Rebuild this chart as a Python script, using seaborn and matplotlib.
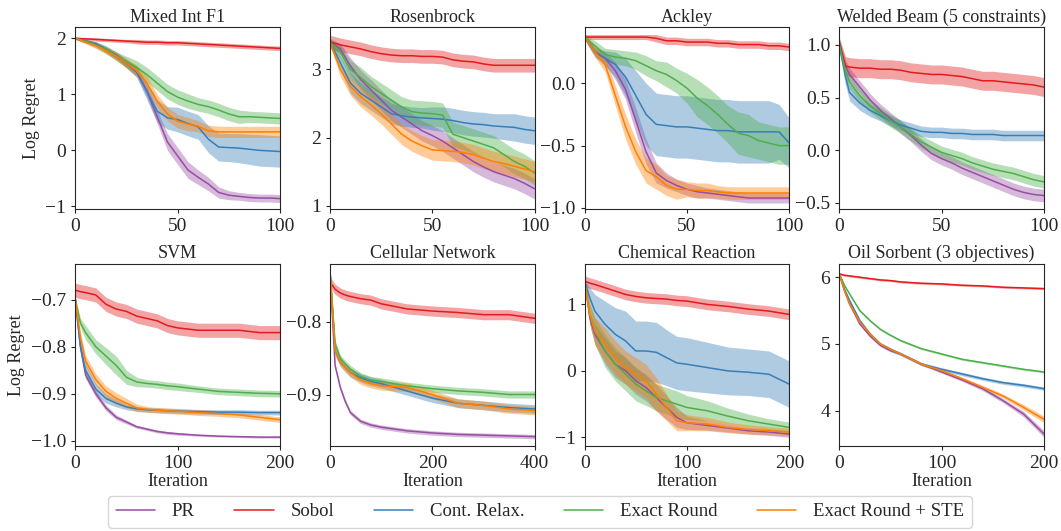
import seaborn as sns
import matplotlib.pyplot as plt
import numpy as np

sns.set_style("ticks")
plt.rcParams['font.family'] = ['Liberation Serif', 'DejaVu Serif']
plt.rcParams['mathtext.fontset'] = 'stix'

methods = ["PR", "Sobol", "Cont. Relax.", "Exact Round", "Exact Round + STE"]
colors = ["#984ea3", "#e41a1c", "#377eb8", "#4daf4a", "#ff7f00"]

# ---- Mixed Int F1 ----
it_f1 = [0, 5, 10, 15, 20, 25, 30, 35, 40, 45, 50, 55, 60, 65, 70, 75, 80, 85, 90, 95, 100]
f1_pr = [2.0, 1.95, 1.9, 1.8, 1.68, 1.55, 1.4, 1.05, 0.6, 0.15, -0.1, -0.35, -0.48, -0.6, -0.75, -0.8, -0.82, -0.84, -0.85, -0.85, -0.86]
f1_sobol = [2.0, 1.99, 1.98, 1.97, 1.96, 1.95, 1.94, 1.93, 1.93, 1.92, 1.92, 1.91, 1.9, 1.89, 1.88, 1.87, 1.86, 1.85, 1.84, 1.83, 1.82]
f1_cont = [2.0, 1.95, 1.9, 1.8, 1.7, 1.55, 1.4, 1.05, 0.7, 0.58, 0.55, 0.48, 0.42, 0.2, 0.06, 0.05, 0.04, 0.02, 0.0, -0.01, -0.02]
f1_exact = [2.0, 1.95, 1.88, 1.8, 1.68, 1.58, 1.48, 1.35, 1.2, 1.05, 0.95, 0.88, 0.82, 0.78, 0.72, 0.65, 0.6, 0.6, 0.59, 0.58, 0.57]
f1_ste = [2.0, 1.93, 1.87, 1.78, 1.68, 1.55, 1.42, 1.2, 0.88, 0.65, 0.52, 0.47, 0.43, 0.35, 0.33, 0.33, 0.33, 0.33, 0.33, 0.33, 0.33]
f1_pr_sd = [0.02, 0.03, 0.04, 0.05, 0.06, 0.07, 0.08, 0.1, 0.12, 0.15, 0.15, 0.15, 0.13, 0.12, 0.1, 0.08, 0.07, 0.07, 0.07, 0.07, 0.07]
f1_sobol_sd = [0.02, 0.02, 0.03, 0.03, 0.03, 0.03, 0.04, 0.04, 0.04, 0.04, 0.04, 0.04, 0.04, 0.04, 0.04, 0.04, 0.04, 0.04, 0.04, 0.04, 0.04]
f1_cont_sd = [0.02, 0.03, 0.04, 0.05, 0.06, 0.08, 0.1, 0.15, 0.2, 0.2, 0.22, 0.22, 0.22, 0.24, 0.25, 0.25, 0.26, 0.27, 0.28, 0.28, 0.28]
f1_exact_sd = [0.02, 0.03, 0.05, 0.07, 0.08, 0.1, 0.12, 0.13, 0.13, 0.13, 0.13, 0.13, 0.12, 0.12, 0.12, 0.12, 0.12, 0.1, 0.1, 0.1, 0.1]
f1_ste_sd = [0.02, 0.03, 0.05, 0.06, 0.07, 0.08, 0.1, 0.12, 0.12, 0.12, 0.12, 0.12, 0.1, 0.1, 0.1, 0.1, 0.1, 0.1, 0.1, 0.1, 0.1]

# ---- Rosenbrock ----
it_ros = [0, 5, 10, 15, 20, 25, 30, 35, 40, 45, 50, 55, 60, 65, 70, 75, 80, 85, 90, 95, 100]
ros_pr = [3.4, 3.3, 3.05, 2.85, 2.7, 2.55, 2.4, 2.3, 2.2, 2.1, 2.03, 1.95, 1.85, 1.75, 1.65, 1.57, 1.5, 1.45, 1.4, 1.33, 1.25]
ros_sobol = [3.4, 3.36, 3.33, 3.3, 3.26, 3.23, 3.21, 3.2, 3.2, 3.19, 3.19, 3.18, 3.14, 3.12, 3.11, 3.08, 3.06, 3.06, 3.06, 3.06, 3.06]
ros_cont = [3.4, 3.1, 2.8, 2.65, 2.55, 2.45, 2.35, 2.32, 2.3, 2.29, 2.28, 2.27, 2.25, 2.22, 2.2, 2.19, 2.17, 2.16, 2.15, 2.12, 2.1]
ros_exact = [3.4, 3.25, 3.0, 2.88, 2.75, 2.65, 2.55, 2.45, 2.38, 2.36, 2.35, 2.33, 2.05, 2.0, 1.95, 1.9, 1.85, 1.75, 1.65, 1.58, 1.48]
ros_ste = [3.4, 3.0, 2.75, 2.6, 2.48, 2.35, 2.2, 2.05, 1.95, 1.88, 1.82, 1.81, 1.8, 1.78, 1.75, 1.7, 1.65, 1.62, 1.58, 1.54, 1.5]
ros_pr_sd = [0.05, 0.08, 0.12, 0.14, 0.15, 0.15, 0.15, 0.15, 0.15, 0.15, 0.15, 0.15, 0.15, 0.15, 0.15, 0.15, 0.15, 0.15, 0.15, 0.15, 0.15]
ros_sobol_sd = 0.1
ros_cont_sd = [0.05, 0.1, 0.15, 0.15, 0.15, 0.15, 0.15, 0.15, 0.15, 0.15, 0.17, 0.18, 0.18, 0.18, 0.18, 0.18, 0.18, 0.19, 0.2, 0.2, 0.2]
ros_exact_sd = [0.05, 0.1, 0.13, 0.15, 0.15, 0.15, 0.15, 0.15, 0.17, 0.18, 0.18, 0.18, 0.18, 0.18, 0.18, 0.18, 0.18, 0.18, 0.18, 0.18, 0.18]
ros_ste_sd = [0.05, 0.1, 0.13, 0.15, 0.15, 0.15, 0.15, 0.15, 0.15, 0.15, 0.15, 0.15, 0.15, 0.15, 0.15, 0.15, 0.15, 0.15, 0.15, 0.15, 0.15]

# ---- Ackley ----
it_ack = [0, 5, 10, 15, 20, 25, 30, 35, 40, 45, 50, 55, 60, 65, 70, 75, 80, 85, 90, 95, 100]
ack_pr = [0.37, 0.25, 0.2, 0.1, -0.05, -0.3, -0.55, -0.72, -0.78, -0.82, -0.85, -0.87, -0.88, -0.89, -0.9, -0.91, -0.92, -0.92, -0.92, -0.92, -0.92]
ack_sobol = [0.37, 0.37, 0.37, 0.37, 0.37, 0.37, 0.37, 0.36, 0.34, 0.34, 0.33, 0.33, 0.33, 0.32, 0.32, 0.31, 0.31, 0.31, 0.3, 0.3, 0.29]
ack_cont = [0.37, 0.25, 0.2, 0.15, 0.05, -0.1, -0.25, -0.33, -0.34, -0.35, -0.35, -0.36, -0.37, -0.38, -0.38, -0.39, -0.39, -0.39, -0.39, -0.39, -0.48]
ack_exact = [0.37, 0.3, 0.23, 0.21, 0.2, 0.18, 0.14, 0.1, 0.07, 0.02, -0.04, -0.12, -0.18, -0.25, -0.33, -0.4, -0.42, -0.46, -0.48, -0.5, -0.5]
ack_ste = [0.37, 0.25, 0.15, -0.1, -0.35, -0.55, -0.7, -0.75, -0.82, -0.85, -0.85, -0.86, -0.86, -0.87, -0.88, -0.88, -0.88, -0.88, -0.88, -0.88, -0.88]
ack_pr_sd = [0.02, 0.03, 0.05, 0.07, 0.08, 0.1, 0.1, 0.08, 0.06, 0.05, 0.05, 0.05, 0.04, 0.04, 0.04, 0.04, 0.04, 0.04, 0.04, 0.04, 0.04]
ack_sobol_sd = [0.02, 0.02, 0.02, 0.02, 0.02, 0.02, 0.02, 0.03, 0.03, 0.03, 0.03, 0.03, 0.03, 0.03, 0.03, 0.03, 0.03, 0.03, 0.03, 0.03, 0.03]
ack_cont_sd = [0.02, 0.04, 0.06, 0.1, 0.15, 0.2, 0.25, 0.25, 0.25, 0.25, 0.25, 0.25, 0.25, 0.25, 0.25, 0.25, 0.25, 0.25, 0.25, 0.22, 0.2]
ack_exact_sd = [0.02, 0.04, 0.05, 0.06, 0.06, 0.07, 0.08, 0.08, 0.1, 0.1, 0.12, 0.15, 0.15, 0.15, 0.15, 0.17, 0.17, 0.15, 0.15, 0.15, 0.15]
ack_ste_sd = [0.02, 0.04, 0.06, 0.08, 0.1, 0.1, 0.1, 0.1, 0.08, 0.08, 0.06, 0.06, 0.06, 0.05, 0.05, 0.05, 0.05, 0.05, 0.05, 0.05, 0.05]

# ---- Welded Beam (no STE run) ----
it_wb = [0, 3, 5, 10, 15, 20, 25, 30, 35, 40, 45, 50, 55, 60, 65, 70, 75, 80, 85, 90, 95, 100]
wb_pr = [1.0, 0.8, 0.72, 0.6, 0.48, 0.38, 0.3, 0.22, 0.14, 0.05, -0.03, -0.08, -0.12, -0.17, -0.21, -0.25, -0.29, -0.33, -0.37, -0.4, -0.42, -0.43]
wb_sobol = [1.02, 0.8, 0.79, 0.78, 0.78, 0.77, 0.77, 0.76, 0.74, 0.73, 0.72, 0.72, 0.71, 0.7, 0.68, 0.66, 0.66, 0.65, 0.64, 0.63, 0.62, 0.6]
wb_cont = [1.0, 0.7, 0.55, 0.45, 0.38, 0.33, 0.28, 0.24, 0.21, 0.18, 0.17, 0.17, 0.16, 0.16, 0.15, 0.15, 0.15, 0.14, 0.14, 0.14, 0.14, 0.14]
wb_exact = [1.0, 0.75, 0.65, 0.52, 0.42, 0.35, 0.28, 0.22, 0.15, 0.08, 0.03, -0.02, -0.05, -0.08, -0.12, -0.15, -0.18, -0.2, -0.22, -0.25, -0.28, -0.3]
wb_ste = None
wb_pr_sd = 0.06
wb_sobol_sd = [0.05, 0.09, 0.09, 0.09, 0.09, 0.09, 0.09, 0.09, 0.09, 0.09, 0.09, 0.09, 0.09, 0.09, 0.09, 0.09, 0.09, 0.09, 0.09, 0.09, 0.09, 0.09]
wb_cont_sd = [0.05, 0.08, 0.08, 0.07, 0.06, 0.05, 0.05, 0.05, 0.05, 0.05, 0.05, 0.05, 0.05, 0.05, 0.05, 0.05, 0.05, 0.05, 0.05, 0.05, 0.05, 0.05]
wb_exact_sd = 0.06
wb_ste_sd = None

# ---- SVM ----
it_svm = [0, 5, 10, 20, 30, 40, 50, 60, 70, 80, 90, 100, 120, 140, 160, 180, 200]
svm_pr = [-0.7, -0.8, -0.86, -0.9, -0.93, -0.95, -0.96, -0.97, -0.975, -0.98, -0.983, -0.985, -0.988, -0.99, -0.991, -0.992, -0.992]
svm_sobol = [-0.68, -0.683, -0.685, -0.69, -0.71, -0.72, -0.725, -0.735, -0.74, -0.745, -0.755, -0.76, -0.765, -0.765, -0.765, -0.77, -0.77]
svm_cont = [-0.7, -0.8, -0.85, -0.89, -0.91, -0.92, -0.928, -0.932, -0.934, -0.935, -0.936, -0.937, -0.938, -0.939, -0.939, -0.94, -0.94]
svm_exact = [-0.7, -0.75, -0.77, -0.8, -0.82, -0.84, -0.865, -0.875, -0.878, -0.88, -0.883, -0.885, -0.89, -0.895, -0.897, -0.899, -0.9]
svm_ste = [-0.7, -0.78, -0.83, -0.87, -0.895, -0.91, -0.92, -0.93, -0.933, -0.935, -0.936, -0.937, -0.94, -0.942, -0.945, -0.95, -0.955]
svm_pr_sd = [0.003, 0.008, 0.008, 0.007, 0.006, 0.005, 0.004, 0.003, 0.003, 0.003, 0.003, 0.003, 0.002, 0.002, 0.002, 0.002, 0.002]
svm_sobol_sd = 0.015
svm_cont_sd = [0.005, 0.015, 0.015, 0.012, 0.01, 0.008, 0.006, 0.005, 0.005, 0.005, 0.005, 0.005, 0.005, 0.005, 0.005, 0.005, 0.005]
svm_exact_sd = [0.005, 0.01, 0.015, 0.015, 0.018, 0.02, 0.015, 0.01, 0.008, 0.008, 0.008, 0.008, 0.007, 0.007, 0.007, 0.007, 0.007]
svm_ste_sd = [0.005, 0.01, 0.012, 0.012, 0.012, 0.012, 0.01, 0.008, 0.006, 0.006, 0.006, 0.006, 0.006, 0.006, 0.006, 0.006, 0.006]

# ---- Cellular Network ----
it_cell = [0, 10, 20, 30, 40, 60, 80, 100, 150, 200, 250, 300, 350, 400]
cell_pr = [-0.73, -0.86, -0.89, -0.91, -0.925, -0.937, -0.942, -0.945, -0.95, -0.953, -0.955, -0.956, -0.957, -0.958]
cell_sobol = [-0.745, -0.755, -0.76, -0.763, -0.765, -0.768, -0.77, -0.775, -0.782, -0.785, -0.787, -0.79, -0.79, -0.795]
cell_cont = [-0.73, -0.84, -0.855, -0.863, -0.87, -0.877, -0.882, -0.885, -0.895, -0.905, -0.912, -0.915, -0.918, -0.92]
cell_exact = [-0.73, -0.83, -0.85, -0.858, -0.865, -0.875, -0.88, -0.882, -0.888, -0.892, -0.895, -0.897, -0.9, -0.9]
cell_ste = [-0.73, -0.84, -0.855, -0.863, -0.87, -0.88, -0.885, -0.888, -0.89, -0.9, -0.912, -0.915, -0.92, -0.922]
cell_pr_sd = 0.003
cell_sobol_sd = 0.007
cell_cont_sd = 0.006
cell_exact_sd = 0.005
cell_ste_sd = 0.006

# ---- Chemical Reaction ----
it_chem = [0, 5, 10, 20, 30, 40, 50, 60, 70, 80, 90, 100, 120, 140, 160, 180, 200]
chem_pr = [1.35, 0.8, 0.55, 0.3, 0.1, 0.0, -0.15, -0.25, -0.4, -0.55, -0.7, -0.78, -0.82, -0.86, -0.9, -0.92, -0.95]
chem_sobol = [1.35, 1.32, 1.3, 1.25, 1.2, 1.15, 1.12, 1.1, 1.09, 1.08, 1.06, 1.05, 1.0, 0.97, 0.93, 0.9, 0.85]
chem_cont = [1.35, 1.1, 0.9, 0.7, 0.55, 0.45, 0.3, 0.3, 0.28, 0.2, 0.12, 0.1, 0.05, 0.0, -0.02, -0.05, -0.2]
chem_exact = [1.35, 0.85, 0.6, 0.3, 0.1, -0.05, -0.2, -0.3, -0.4, -0.45, -0.5, -0.55, -0.6, -0.68, -0.75, -0.8, -0.85]
chem_ste = [1.35, 0.85, 0.6, 0.4, 0.2, 0.05, -0.05, -0.15, -0.35, -0.55, -0.75, -0.78, -0.8, -0.85, -0.88, -0.9, -0.92]
chem_pr_sd = [0.02, 0.1, 0.15, 0.2, 0.2, 0.2, 0.2, 0.2, 0.2, 0.18, 0.15, 0.1, 0.07, 0.06, 0.05, 0.05, 0.05]
chem_sobol_sd = 0.08
chem_cont_sd = [0.02, 0.15, 0.25, 0.35, 0.4, 0.45, 0.45, 0.45, 0.45, 0.42, 0.4, 0.4, 0.38, 0.36, 0.35, 0.35, 0.35]
chem_exact_sd = [0.02, 0.15, 0.2, 0.25, 0.25, 0.25, 0.25, 0.22, 0.2, 0.2, 0.2, 0.18, 0.15, 0.12, 0.1, 0.08, 0.08]
chem_ste_sd = [0.02, 0.15, 0.2, 0.25, 0.25, 0.25, 0.25, 0.25, 0.25, 0.2, 0.15, 0.12, 0.1, 0.08, 0.07, 0.06, 0.06]

# ---- Oil Sorbent ----
it_oil = [0, 5, 10, 20, 30, 40, 50, 60, 80, 100, 120, 140, 160, 180, 200]
oil_pr = [6.05, 5.8, 5.6, 5.3, 5.12, 4.98, 4.9, 4.85, 4.7, 4.58, 4.46, 4.33, 4.15, 3.95, 3.65]
oil_sobol = [6.05, 6.03, 6.02, 6.0, 5.98, 5.96, 5.95, 5.93, 5.91, 5.9, 5.88, 5.87, 5.85, 5.84, 5.83]
oil_cont = [6.05, 5.82, 5.65, 5.35, 5.15, 5.0, 4.92, 4.85, 4.7, 4.62, 4.55, 4.48, 4.42, 4.38, 4.33]
oil_exact = [6.05, 5.88, 5.75, 5.5, 5.35, 5.22, 5.13, 5.05, 4.93, 4.85, 4.77, 4.72, 4.67, 4.62, 4.58]
oil_ste = [6.05, 5.8, 5.6, 5.33, 5.15, 5.0, 4.92, 4.85, 4.7, 4.6, 4.48, 4.35, 4.22, 4.05, 3.87]
oil_pr_sd = [0.01, 0.02, 0.02, 0.02, 0.02, 0.02, 0.02, 0.02, 0.02, 0.02, 0.02, 0.03, 0.03, 0.04, 0.05]
oil_sobol_sd = 0.015
oil_cont_sd = 0.025
oil_exact_sd = 0.015
oil_ste_sd = [0.01, 0.02, 0.02, 0.02, 0.02, 0.02, 0.02, 0.02, 0.02, 0.02, 0.02, 0.03, 0.03, 0.04, 0.05]

panels = [
    ("Mixed Int F1", it_f1, [f1_pr, f1_sobol, f1_cont, f1_exact, f1_ste],
     [f1_pr_sd, f1_sobol_sd, f1_cont_sd, f1_exact_sd, f1_ste_sd], 100),
    ("Rosenbrock", it_ros, [ros_pr, ros_sobol, ros_cont, ros_exact, ros_ste],
     [ros_pr_sd, ros_sobol_sd, ros_cont_sd, ros_exact_sd, ros_ste_sd], 100),
    ("Ackley", it_ack, [ack_pr, ack_sobol, ack_cont, ack_exact, ack_ste],
     [ack_pr_sd, ack_sobol_sd, ack_cont_sd, ack_exact_sd, ack_ste_sd], 100),
    ("Welded Beam (5 constraints)", it_wb, [wb_pr, wb_sobol, wb_cont, wb_exact, wb_ste],
     [wb_pr_sd, wb_sobol_sd, wb_cont_sd, wb_exact_sd, wb_ste_sd], 100),
    ("SVM", it_svm, [svm_pr, svm_sobol, svm_cont, svm_exact, svm_ste],
     [svm_pr_sd, svm_sobol_sd, svm_cont_sd, svm_exact_sd, svm_ste_sd], 200),
    ("Cellular Network", it_cell, [cell_pr, cell_sobol, cell_cont, cell_exact, cell_ste],
     [cell_pr_sd, cell_sobol_sd, cell_cont_sd, cell_exact_sd, cell_ste_sd], 400),
    ("Chemical Reaction", it_chem, [chem_pr, chem_sobol, chem_cont, chem_exact, chem_ste],
     [chem_pr_sd, chem_sobol_sd, chem_cont_sd, chem_exact_sd, chem_ste_sd], 200),
    ("Oil Sorbent (3 objectives)", it_oil, [oil_pr, oil_sobol, oil_cont, oil_exact, oil_ste],
     [oil_pr_sd, oil_sobol_sd, oil_cont_sd, oil_exact_sd, oil_ste_sd], 200),
]
ylims = [(-1.05, 2.2), (0.95, 3.62), (-1.01, 0.45), (-0.56, 1.17),
         (-1.011, -0.624), (-0.971, -0.72), (-1.13, 1.61), (3.47, 6.2)]

fig, axes = plt.subplots(2, 4, figsize=(10.61, 5.31), dpi=100)
axes = axes.flatten()
for i, (title, it, series, bands, xmax) in enumerate(panels):
    ax = axes[i]
    for name, col, y, b in zip(methods, colors, series, bands):
        if y is None:
            continue
        y = np.array(y)
        b = np.array(b)
        ax.fill_between(it, y - b, y + b, color=col, alpha=0.4, linewidth=0)
        sns.lineplot(x=it, y=y, color=col, linewidth=1.1, ax=ax, label=name if i == 0 else None)
    ax.set_xlim(0, xmax)
    ax.set_ylim(*ylims[i])
    ax.set_title(title, fontsize=13, pad=4)
    ax.tick_params(labelsize=14, length=3)
    if ax.get_legend() is not None:
        ax.get_legend().remove()
    if i % 4 == 0:
        ax.set_ylabel("Log Regret", fontsize=13)
    if i >= 4:
        ax.set_xlabel("Iteration", fontsize=13, labelpad=1)

handles, labels = axes[0].get_legend_handles_labels()
fig.legend(handles, labels, loc='lower center', ncol=5, fontsize=13.5, bbox_to_anchor=(0.509, -0.012),
           handlelength=2.1, handletextpad=0.9, columnspacing=2.1, frameon=True)

plt.subplots_adjust(left=0.071, right=0.984, top=0.949, bottom=0.16, wspace=0.244, hspace=0.30)
fig.savefig("out.png")
